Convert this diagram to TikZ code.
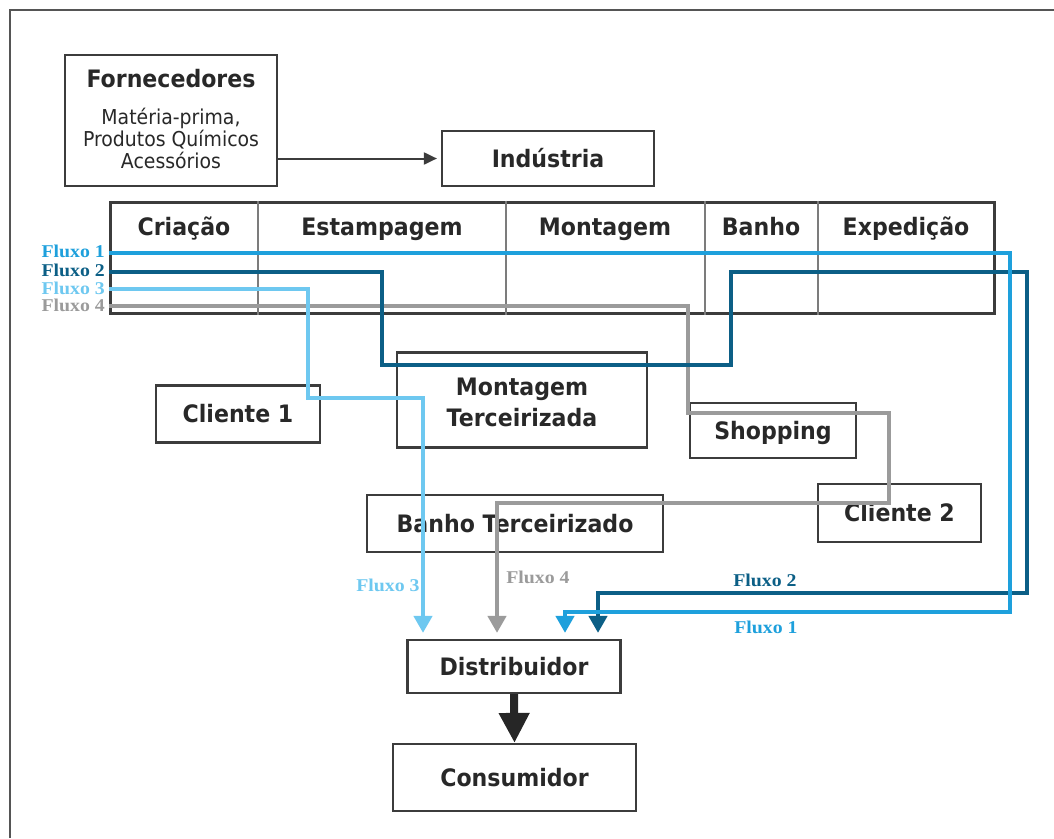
\documentclass[tikz,border=0pt]{standalone}
\usepackage{fontspec}
\setmainfont{DejaVu Sans}[FakeStretch=0.92]
\newfontfamily\flxfont{Liberation Serif}[FakeStretch=1.1]
\usetikzlibrary{arrows.meta}
\definecolor{fone}{RGB}{30,160,220}
\definecolor{ftwo}{RGB}{12,95,134}
\definecolor{fthree}{RGB}{110,200,240}
\definecolor{ffour}{RGB}{155,155,155}
\definecolor{boxc}{RGB}{60,60,60}
\definecolor{txtc}{RGB}{40,40,40}
\definecolor{framec}{RGB}{85,85,85}
\begin{document}
\begin{tikzpicture}[x=1pt,y=-1pt,
  box/.style={draw=boxc, line width=2.2pt, inner sep=0pt, text=txtc,
    font=\bfseries\fontsize{24}{31}\selectfont, align=center},
  lbl/.style={text height=17.5pt, text depth=0pt},
  hdr/.style={text=txtc, font=\bfseries\fontsize{24}{31}\selectfont, inner sep=0pt, anchor=base},
  subtxt/.style={text=txtc, font=\fontsize{20.5}{22}\selectfont, inner sep=0pt, align=center},
  flow/.style={line width=4.5pt, line join=miter, shorten >=6pt},
  flowarrow/.style={-{Triangle[width=18pt,length=17pt]}},
  flab/.style={font=\flxfont\bfseries\fontsize{18}{20}\selectfont, inner sep=0pt}]
\useasboundingbox (0,0) rectangle (1054,838);
% frame
\draw[line width=1.8pt, framec] (10,838) -- (10,10) -- (1054,10);

% top boxes
\node[box, minimum width=212pt, minimum height=131pt] (forn) at (171,120.5) {};
\node[hdr] (forntitle) at (171,87) {Fornecedores};
\node[subtxt] (fornsub) at (171,138) {Matéria-prima,\\Produtos Químicos\\Acessórios};
\node[box, lbl, minimum width=212pt, minimum height=55pt] (ind) at (548,158.5) {Indústria};
\draw[line width=2pt, boxc, -{Triangle[width=12pt,length=13pt]}] (forn.east |- ind.west) -- ([xshift=-4pt]ind.west);

% table
\node[draw=boxc, line width=3pt, minimum width=884pt, minimum height=111pt, inner sep=0pt] (tbl) at (552,257.5) {};
\foreach \x in {258,506,705,818}
  \draw[line width=1.4pt, ffour!80!black] (tbl.north -| \x,0) -- (tbl.south -| \x,0);
\node[hdr] (hcri) at (184,235) {Criação};
\node[hdr] (hest) at (382,235) {Estampagem};
\node[hdr] (hmon) at (605,235) {Montagem};
\node[hdr] (hban) at (761,235) {Banho};
\node[hdr] (hexp) at (906,235) {Expedição};

% middle boxes
\node[box, lbl, minimum width=164pt, minimum height=57pt] (cli1) at (238,414) {Cliente 1};
\node[box, minimum width=250pt, minimum height=95pt] (mont) at (522,400) {};
\node[box, draw=none, align=center] (montlbl) at (522,402.5) {Montagem\\Terceirizada};
\node[box, lbl, minimum width=166pt, minimum height=55pt] (shop) at (773,430.5) {Shopping};
\node[box, lbl, minimum width=163pt, minimum height=58pt] (cli2) at (899.5,513) {Cliente 2};
\node[box, lbl, minimum width=296pt, minimum height=57pt] (banho) at (515,523.5) {Banho Terceirizado};
\node[box, lbl, minimum width=213pt, minimum height=53pt] (dist) at (514,666.5) {Distribuidor};
\node[box, lbl, minimum width=243pt, minimum height=67pt] (cons) at (514.5,777.5) {Consumidor};

\draw[line width=8pt, black!85, -{Triangle[width=29pt,length=30pt]}] (dist.south) -- (cons.north);

% flow start points
\coordinate (f1s) at (tbl.west |- 0,253);
\coordinate (f2s) at (tbl.west |- 0,272);
\coordinate (f3s) at (tbl.west |- 0,289);
\coordinate (f4s) at (tbl.west |- 0,306);

% flows
\draw[flow, ffour, flowarrow] (f4s) -- (688,306) -- (688,413) -- (889,413) -- (889,503) -- (497,503) -- (dist.north -| 497,0);
\draw[flow, fthree, flowarrow] (f3s) -- (308,289) -- (308,398) -- (423,398) -- (dist.north -| 423,0);
\draw[flow, ftwo, flowarrow] (f2s) -- (382,272) -- (382,365) -- (731,365) -- (731,272) -- (1027,272) -- (1027,593) -- (598,593) -- (dist.north -| 598,0);
\draw[flow, fone, flowarrow] (f1s) -- (1010,253) -- (1010,612) -- (565,612) -- (dist.north -| 565,0);

% labels
\node[flab, fone, anchor=east] (l1) at (105,251) {Fluxo 1};
\node[flab, ftwo, anchor=east] (l2) at (105,270) {Fluxo 2};
\node[flab, fthree, anchor=east] (l3) at (105,288) {Fluxo 3};
\node[flab, ffour, anchor=east] (l4) at (105,305) {Fluxo 4};
\node[flab, fthree] (b3) at (388,585) {Fluxo 3};
\node[flab, ffour] (b4) at (538,577) {Fluxo 4};
\node[flab, ftwo] (b2) at (765,580) {Fluxo 2};
\node[flab, fone] (b1) at (766,627) {Fluxo 1};
\end{tikzpicture}
\end{document}
